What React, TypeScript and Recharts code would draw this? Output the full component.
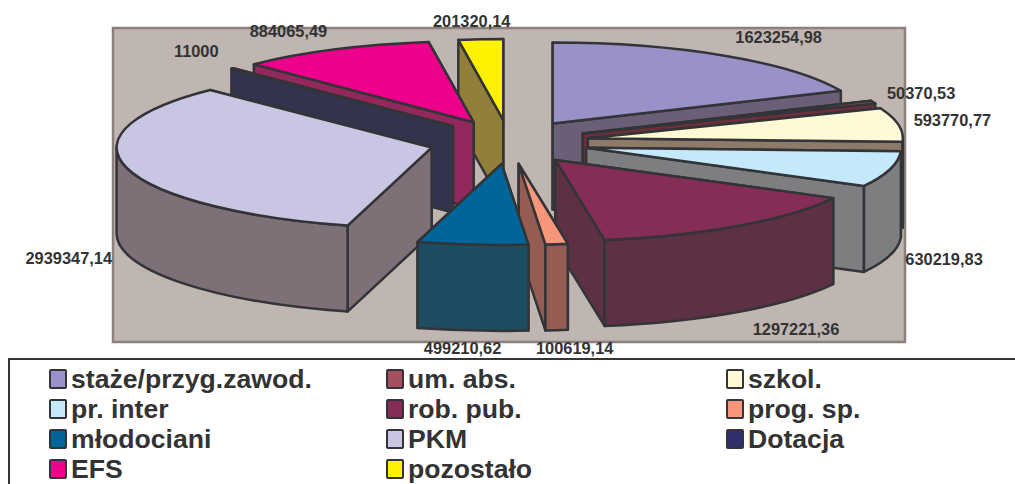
import { PieChart, Pie, Legend } from 'recharts';

const categories = ['staże/przyg.zawod.', 'um. abs.', 'szkol.', 'pr. inter', 'rob. pub.', 'prog. sp.', 'młodociani', 'PKM', 'Dotacja', 'EFS', 'pozostało'];
const values = [1623254.98, 50370.53, 593770.77, 630219.83, 1297221.36, 100619.14, 499210.62, 2939347.14, 11000, 884065.49, 201320.14];
const topColors = ['#9a91c8', '#a5505f', '#fff9d6', '#c4e9fa', '#852c57', '#f7967a', '#006699', '#c8c6e2', '#2f2f6b', '#ee008c', '#fff200'];
const sideColors = ['#6b5f78', '#6e2f3c', '#8d7a68', '#7c7e80', '#5e3045', '#955c53', '#1e4c63', '#7d7077', '#33334e', '#92285c', '#927f3a'];
// label shift from the slice's outer rim, same order as categories
const labelNudges = [[54, -19], [48, -9], [54, -5], [54, 90], [58, 103], [18, 104], [-10, 103], [-58, 90], [-36, -18], [-46, -19], [-9, -18]];
// these slices sit behind the others, so they get painted first
const backSlices = ['pozostało', 'EFS', 'Dotacja', 'PKM'];

const rows = categories.map((name, i) => ({ name, value: values[i], top: topColors[i], side: sideColors[i], nudge: labelNudges[i] }));
const reversedRows = [...rows].reverse();

const FONT = '"Liberation Sans", Arial, sans-serif';
const OUTLINE = '#333438';
const SQUASH = 81 / 315;
const DEPTH = 86;
const EXPLODE_X = 80;
const EXPLODE_Y = 22;

const rad = (deg: number) => (deg * Math.PI) / 180;

function Slice3D(props: any) {
  const { cx, cy, outerRadius, startAngle, endAngle, midAngle, top, side } = props;
  const rx = outerRadius;
  const ry = outerRadius * SQUASH;
  // angles clockwise from 12 o'clock
  let a = 90 - Math.max(startAngle, endAngle);
  let b = 90 - Math.min(startAngle, endAngle);
  if (a < 0) {
    a += 360;
    b += 360;
  }
  const mid = rad(90 - midAngle);
  const ox = cx + EXPLODE_X * Math.sin(mid);
  const oy = cy - EXPLODE_Y * Math.cos(mid);
  const pt = (deg: number, d = 0) => [ox + rx * Math.sin(rad(deg)), oy - ry * Math.cos(rad(deg)) + d];
  const xy = (p: number[]) => `${p[0]} ${p[1]}`;
  const arc = (to: number[], sweep: number, large: number) => `A ${rx} ${ry} 0 ${large} ${sweep} ${xy(to)}`;
  const large = b - a > 180 ? 1 : 0;

  const walls = [a, b]
    .sort((p, q) => pt(p)[1] - pt(q)[1])
    .map((deg) => `M ${ox} ${oy} L ${xy(pt(deg))} L ${xy(pt(deg, DEPTH))} L ${ox} ${oy + DEPTH} Z`);

  const rimFrom = Math.max(a, 90);
  const rimTo = Math.min(b, 270);
  const rim = rimTo > rimFrom
    ? `M ${xy(pt(rimFrom))} ${arc(pt(rimTo), 1, 0)} L ${xy(pt(rimTo, DEPTH))} ${arc(pt(rimFrom, DEPTH), 0, 0)} Z`
    : null;

  return (
    <g stroke={OUTLINE} strokeWidth={2.5} strokeLinejoin="round">
      {walls.map((d, i) => <path key={i} d={d} fill={side} />)}
      {rim && <path d={rim} fill={side} />}
      <path d={`M ${ox} ${oy} L ${xy(pt(a))} ${arc(pt(b), 1, large)} Z`} fill={top} />
    </g>
  );
}

function renderBack(props: any) {
  return backSlices.includes(props.name) ? <Slice3D {...props} /> : <g />;
}

function renderFront(props: any) {
  return backSlices.includes(props.name) ? <g /> : <Slice3D {...props} />;
}

function SliceLabel(props: any) {
  const { cx, cy, outerRadius, midAngle, value, nudge } = props;
  const mid = rad(90 - midAngle);
  const x = cx + (outerRadius + EXPLODE_X) * Math.sin(mid) + nudge[0];
  const y = cy - (outerRadius * SQUASH + EXPLODE_Y) * Math.cos(mid) + nudge[1];
  return (
    <text x={x} y={y} textAnchor="middle" dominantBaseline="central" fontFamily={FONT} fontWeight={700} fontSize={16.4} fill="#333">
      {String(value).replace('.', ',')}
    </text>
  );
}

function backLabel(props: any) {
  return backSlices.includes(props.name) ? <SliceLabel {...props} /> : <g />;
}

function frontLabel(props: any) {
  return backSlices.includes(props.name) ? <g /> : <SliceLabel {...props} />;
}

function LegendBox() {
  return (
    <div style={{ display: 'grid', gridTemplateColumns: '337px 340px 1fr', gridAutoRows: '30px', paddingLeft: 39, paddingTop: 4 }}>
      {rows.map((r) => (
        <div key={r.name} style={{ display: 'flex', alignItems: 'center', height: 30 }}>
          <span style={{ width: 14, height: 16, background: r.top, border: `2.5px solid ${OUTLINE}`, borderRadius: 2, marginRight: 4, flexShrink: 0 }} />
          <span style={{ fontFamily: FONT, fontWeight: 700, fontSize: 26.6, color: '#333', whiteSpace: 'nowrap', lineHeight: '30px' }}>{r.name}</span>
        </div>
      ))}
    </div>
  );
}

export default function App() {
  return (
    <div style={{ position: 'absolute', left: 0, top: 0, width: 1015, height: 484, overflow: 'hidden', background: '#fff' }}>
      <PieChart width={1015} height={484} margin={{ top: 0, right: 0, bottom: 0, left: 0 }}>
        <rect x={113} y={28} width={792} height={314} fill="#bfb5b1" stroke="#8c7f7c" strokeWidth={2.5} />
        <Pie
          data={reversedRows}
          dataKey="value"
          nameKey="name"
          cx={509}
          cy={142}
          outerRadius={315}
          startAngle={90}
          endAngle={450}
          stroke="none"
          shape={renderBack}
          label={backLabel}
          labelLine={false}
          isAnimationActive={false}
        />
        <Pie
          data={rows}
          dataKey="value"
          nameKey="name"
          cx={509}
          cy={142}
          outerRadius={315}
          startAngle={90}
          endAngle={-270}
          stroke="none"
          shape={renderFront}
          label={frontLabel}
          labelLine={false}
          isAnimationActive={false}
        />
        <Legend
          content={<LegendBox />}
          wrapperStyle={{ position: 'absolute', left: 8, top: 358, width: 1007, height: 126, borderTop: `2px solid ${OUTLINE}`, borderLeft: `2px solid ${OUTLINE}`, boxSizing: 'border-box' }}
        />
      </PieChart>
    </div>
  );
}
